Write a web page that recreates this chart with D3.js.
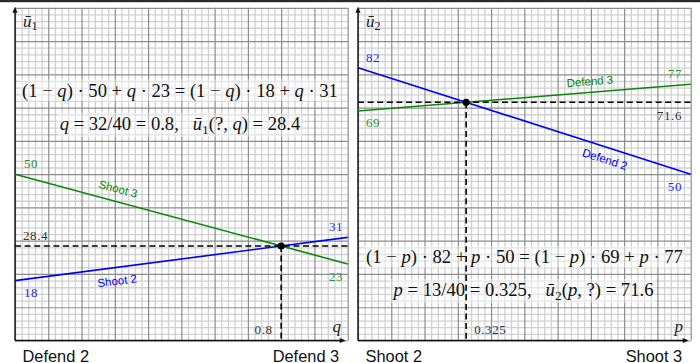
<!DOCTYPE html>
<html>
<head>
<meta charset="utf-8">
<script src="https://cdn.jsdelivr.net/npm/d3@7"></script>
<style>
  html, body { margin: 0; padding: 0; background: #fff; }
  svg { display: block; }
  text { white-space: pre; }
</style>
</head>
<body>
<svg id="chart" width="700" height="363"></svg>
<script>
// Payoff table of the 2x2 game: rows = defender, columns = shooter
const defenderActions = ["Defend 2", "Defend 3"];
const shooterActions = ["Shoot 2", "Shoot 3"];
// Player 1 (defender) expected payoff against q = P(Shoot 3)
const shoot2Line = [18, 31];
const shoot3Line = [50, 23];
// Player 2 (shooter) expected payoff against p = P(Defend 3)
const defend2Line = [82, 50];
const defend3Line = [69, 77];
// Mixed equilibrium: [probability, value]
const mixLeft = [0.8, 28.4];
const mixRight = [0.325, 71.6];
const fracLeft = "32/40";
const fracRight = "13/40";
const yDomain = [0, 100];

const svg = d3.select("#chart");
const W = 700, H = 363;

const colors = {
  blue: "#0000f5", blueText: "#2a2ae6",
  green: "#0b860b", greenText: "#2f912f",
  gridMinor: "#d0d0d0", gridMajor: "#8c8c8c",
  dark: "#333"
};
const serif = "'Liberation Serif', 'DejaVu Serif', serif";
const sans = "'Liberation Sans', Arial, sans-serif";
const gap = "\u00a0\u00a0\u00a0";

// thin dark strip at the top edge
svg.append("rect").attr("x", 0).attr("y", 0).attr("width", W).attr("height", 2.2).attr("fill", "#2a2a2a");

const y = d3.scaleLinear().domain(yDomain).range([340.5, 7.8]);

// writes a math line built from [text, style] pieces; style: "i" italic, "s" subscript
function mathText(g, pieces, cx, baseline, size) {
  const t = g.append("text")
    .attr("x", cx).attr("y", baseline)
    .attr("text-anchor", "middle")
    .attr("font-family", serif)
    .attr("font-size", size)
    .attr("fill", "#111");
  let shifted = false;
  pieces.forEach(([txt, st]) => {
    const ts = t.append("tspan").text(txt);
    if (st === "i") ts.attr("font-style", "italic");
    if (st === "s") { ts.attr("font-size", "0.72em").attr("dy", "0.28em"); shifted = true; }
    else if (shifted) { ts.attr("dy", "-0.2em"); shifted = false; }
  });
  return t;
}

function panel(opts) {
  const x = d3.scaleLinear().domain([0, 1]).range(opts.xRange);
  const g = svg.append("g");
  const x0 = x(0), x1 = x(1), yb = y(0), yt = y(100);

  // grid: minor every 0.02 / 2 units, major every 0.1 / 10 units
  const minorX = d3.range(0, 51).map(i => i / 50).filter((d, i) => i % 5 !== 0);
  const majorX = d3.range(0, 11).map(i => i / 10);
  const minorY = d3.range(0, 51).map(i => i * 2).filter((d, i) => i % 5 !== 0);
  const majorY = d3.range(0, 11).map(i => i * 10);

  const gridLayer = (axis, color, width, tr) => {
    const a = g.append("g").attr("transform", tr).call(axis);
    a.select(".domain").remove();
    a.selectAll("line").attr("stroke", color).attr("stroke-width", width);
    a.selectAll("text").remove();
  };
  gridLayer(d3.axisBottom(x).tickValues(minorX).tickSize(-(yb - yt)).tickFormat(""), colors.gridMinor, 1.3, `translate(0,${yb})`);
  gridLayer(d3.axisLeft(y).tickValues(minorY).tickSize(-(x1 - x0)).tickFormat(""), colors.gridMinor, 1.3, `translate(${x0},0)`);
  gridLayer(d3.axisBottom(x).tickValues(majorX).tickSize(-(yb - yt)).tickFormat(""), colors.gridMajor, 1.2, `translate(0,${yb})`);
  gridLayer(d3.axisLeft(y).tickValues(majorY).tickSize(-(x1 - x0)).tickFormat(""), colors.gridMajor, 1.2, `translate(${x0},0)`);

  // equation lines share one size, fitted on the first line's width
  const eq = g.append("g");
  const first = mathText(eq, opts.equations[0].pieces, opts.equations[0].cx, opts.equations[0].baseline, 16);
  const size = 16 * opts.equations[0].width / first.node().getComputedTextLength();
  first.attr("font-size", size);
  mathText(eq, opts.equations[1].pieces, opts.equations[1].cx, opts.equations[1].baseline, size);
  eq.selectAll("text").each(function () {
    const bb = this.getBBox();
    eq.insert("rect", "text")
      .attr("x", bb.x - 2).attr("y", bb.y)
      .attr("width", bb.width + 4).attr("height", bb.height)
      .attr("fill", "#fff").attr("fill-opacity", 0.45);
  });

  // axes with arrow heads
  const ax = g.append("g").attr("stroke", "#111").attr("stroke-width", 1.4);
  ax.append("line").attr("x1", x0).attr("y1", yb).attr("x2", x0).attr("y2", yt + 3);
  ax.append("line").attr("x1", x0).attr("y1", yb).attr("x2", x1 - 4).attr("y2", yb);
  g.append("path").attr("d", `M${x0},${yt - 1} l-2.6,6 l5.2,0 z`).attr("fill", "#111");
  g.append("path").attr("d", `M${x1 - 2},${yb} l-6,-2.6 l0,5.2 z`).attr("fill", "#111");

  // payoff lines
  const line = d3.line().x(d => x(d[0])).y(d => y(d[1]));
  opts.lines.forEach(l => {
    g.append("path")
      .attr("d", line([[0, l.values[0]], [1, l.values[1]]]))
      .attr("fill", "none").attr("stroke", l.color).attr("stroke-width", 1.6);
  });

  // equilibrium guides
  const [pStar, vStar] = opts.mix;
  const dash = g.append("g").attr("stroke", "#000").attr("stroke-width", 1.6).attr("stroke-dasharray", "6,3.6");
  dash.append("line").attr("x1", x0).attr("x2", x1).attr("y1", y(vStar)).attr("y2", y(vStar));
  dash.append("line").attr("x1", x(pStar)).attr("x2", x(pStar)).attr("y1", y(vStar)).attr("y2", yb);
  g.append("circle").attr("cx", x(pStar)).attr("cy", y(vStar)).attr("r", 3.6).attr("fill", "#000");

  // small value labels
  opts.labels.forEach(lb => {
    g.append("text")
      .attr("x", lb.x(x)).attr("y", lb.y)
      .attr("text-anchor", lb.anchor || "start")
      .attr("dominant-baseline", "central")
      .attr("font-family", serif)
      .attr("font-size", lb.size || 13)
      .attr("letter-spacing", lb.size ? null : 0.6)
      .attr("font-style", lb.italic ? "italic" : null)
      .attr("fill", lb.color)
      .text(lb.text);
  });

  // rotated line names
  opts.lineNames.forEach(n => {
    const v = n.values[0] + (n.values[1] - n.values[0]) * n.t;
    const ang = Math.atan2(y(n.values[1]) - y(n.values[0]), x(1) - x(0)) * 180 / Math.PI;
    const px = x(n.t), py = y(v) + n.off;
    g.append("text")
      .attr("transform", `translate(${px},${py}) rotate(${ang})`)
      .attr("text-anchor", "middle").attr("dominant-baseline", "central")
      .attr("font-family", sans).attr("font-size", 11.5)
      .attr("fill", n.color).text(n.text);
  });

  // axis title (u-bar with subscript)
  const ut = g.append("text").attr("x", x0 + 8).attr("y", 26.5)
    .attr("font-family", serif).attr("font-size", 17).attr("fill", "#222");
  ut.append("tspan").attr("font-style", "italic").text("ū");
  ut.append("tspan").attr("font-size", "0.72em").attr("dy", "0.25em").text(opts.sub);

  // action names under the axis
  g.append("text").attr("x", x0 + 7.5).attr("y", 361.5)
    .attr("font-family", sans).attr("font-size", 16.4).attr("fill", "#111").text(opts.names[0]);
  g.append("text").attr("x", x1 - 8.5).attr("y", 361.5).attr("text-anchor", "end")
    .attr("font-family", sans).attr("font-size", 16.4).attr("fill", "#111").text(opts.names[1]);
}

// Left: defender's payoff vs q
panel({
  xRange: [15, 347.7],
  sub: "1",
  names: defenderActions,
  mix: mixLeft,
  lines: [
    { values: shoot3Line, color: colors.green },
    { values: shoot2Line, color: colors.blue }
  ],
  lineNames: [
    { values: shoot3Line, t: 0.31, off: -13, color: colors.green, text: "Shoot 3" },
    { values: shoot2Line, t: 0.307, off: 13.5, color: colors.blue, text: "Shoot 2" }
  ],
  labels: [
    { text: String(shoot3Line[0]), x: s => s(0) + 9, y: y(shoot3Line[0]) - 11, color: colors.greenText },
    { text: String(shoot2Line[0]), x: s => s(0) + 9, y: y(shoot2Line[0]) + 11.5, color: colors.blueText },
    { text: String(shoot2Line[1]), x: s => s(1) - 4.5, y: y(shoot2Line[1]) - 11, color: colors.blueText, anchor: "end" },
    { text: String(shoot3Line[1]), x: s => s(1) - 4.5, y: y(shoot3Line[1]) + 12.5, color: colors.greenText, anchor: "end" },
    { text: String(mixLeft[1]), x: s => s(0) + 8, y: y(mixLeft[1]) - 11, color: colors.dark },
    { text: String(mixLeft[0]), x: s => s(mixLeft[0]) - 8.5, y: 329, color: colors.dark, anchor: "end" },
    { text: "q", x: s => s(1) - 11, y: 326, color: "#222", italic: true, size: 17, anchor: "middle" }
  ],
  equations: [
    { cx: 180, baseline: 96.5, width: 316, pieces: [
      ["(1 − ", ""], ["q", "i"], [") · " + shoot3Line[0] + " + ", ""], ["q", "i"], [" · " + shoot3Line[1] + " = (1 − ", ""],
      ["q", "i"], [") · " + shoot2Line[0] + " + ", ""], ["q", "i"], [" · " + shoot2Line[1], ""]] },
    { cx: 180, baseline: 130, pieces: [
      ["q", "i"], [" = " + fracLeft + " = " + mixLeft[0] + "," + gap, ""], ["ū", "i"], ["1", "s"], ["(?, ", ""], ["q", "i"], [") = " + mixLeft[1], ""]] }
  ]
});

// Right: shooter's payoff vs p
panel({
  xRange: [358, 690.7],
  sub: "2",
  names: shooterActions,
  mix: mixRight,
  lines: [
    { values: defend3Line, color: colors.green },
    { values: defend2Line, color: colors.blue }
  ],
  lineNames: [
    { values: defend3Line, t: 0.697, off: -11, color: colors.green, text: "Defend 3" },
    { values: defend2Line, t: 0.742, off: 12.5, color: colors.blue, text: "Defend 2" }
  ],
  labels: [
    { text: String(defend2Line[0]), x: s => s(0) + 8, y: y(defend2Line[0]) - 10.5, color: colors.blueText },
    { text: String(defend3Line[0]), x: s => s(0) + 8, y: y(defend3Line[0]) + 12, color: colors.greenText },
    { text: String(defend3Line[1]), x: s => s(1) - 8.7, y: y(defend3Line[1]) - 11, color: colors.greenText, anchor: "end" },
    { text: String(mixRight[1]), x: s => s(1) - 8.7, y: y(mixRight[1]) + 13, color: colors.dark, anchor: "end" },
    { text: String(defend2Line[1]), x: s => s(1) - 8.7, y: y(defend2Line[1]) + 12, color: colors.blueText, anchor: "end" },
    { text: String(mixRight[0]), x: s => s(mixRight[0]) + 8, y: 329, color: colors.dark },
    { text: "p", x: s => s(1) - 12, y: 326, color: "#222", italic: true, size: 17, anchor: "middle" }
  ],
  equations: [
    { cx: 524.5, baseline: 263, width: 317, pieces: [
      ["(1 − ", ""], ["p", "i"], [") · " + defend2Line[0] + " + ", ""], ["p", "i"], [" · " + defend2Line[1] + " = (1 − ", ""],
      ["p", "i"], [") · " + defend3Line[0] + " + ", ""], ["p", "i"], [" · " + defend3Line[1], ""]] },
    { cx: 523.5, baseline: 296, pieces: [
      ["p", "i"], [" = " + fracRight + " = " + mixRight[0] + "," + gap, ""], ["ū", "i"], ["2", "s"], ["(", ""], ["p", "i"], [", ?) = " + mixRight[1], ""]] }
  ]
});
</script>
</body>
</html>
